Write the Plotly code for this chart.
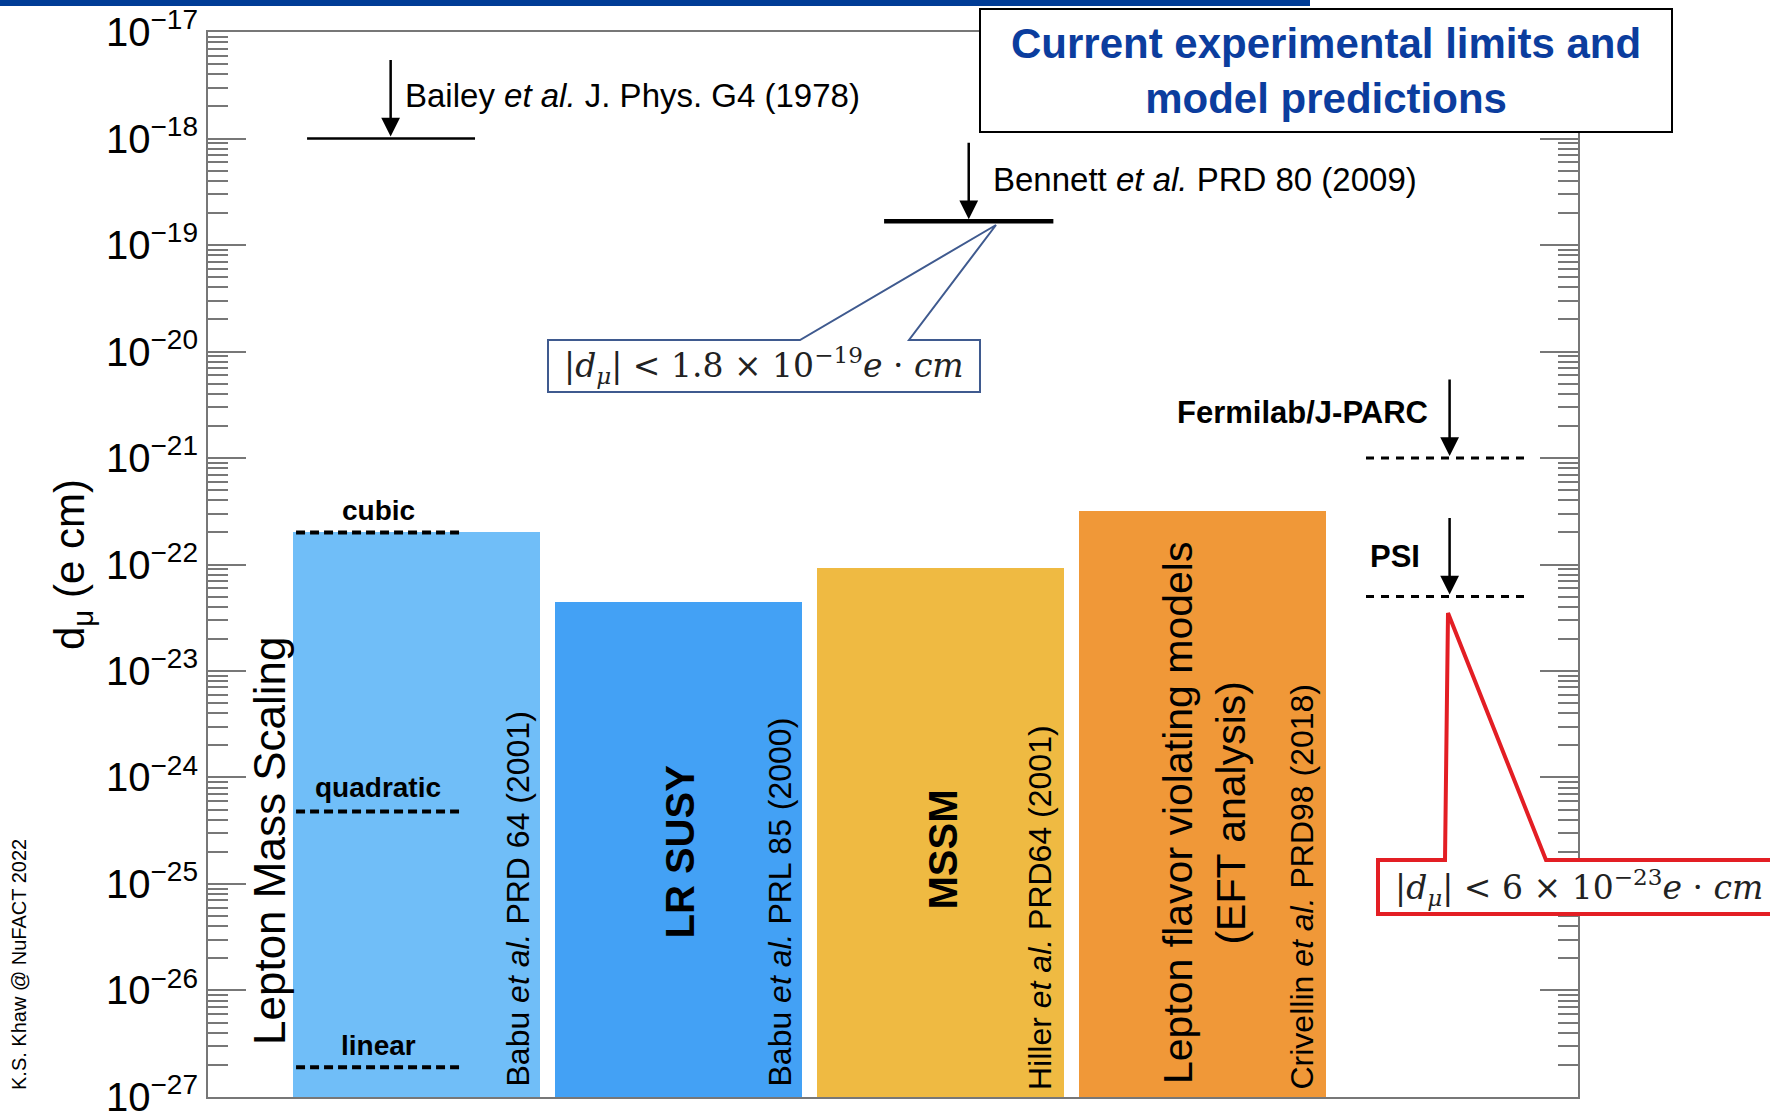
import math
import plotly.graph_objects as go

# ---------------- data ----------------
model_names = ["Lepton Mass Scaling", "LR SUSY", "MSSM",
               "Lepton flavor violating models<br>(EFT analysis)"]
model_refs = ["Babu <i>et al.</i> PRD 64 (2001)", "Babu <i>et al.</i> PRL 85 (2000)",
              "Hiller <i>et al.</i> PRD64 (2001)", "Crivellin <i>et al.</i> PRD98 (2018)"]
model_pos = [1, 2, 3, 4]
model_max = [2.0e-22, 4.4e-23, 9.3e-23, 3.2e-22]
model_colors = ["#70bef8", "#43a1f5", "#efba42", "#f09838"]

scaling_labels = ["cubic", "quadratic", "linear"]
scaling_values = [2.0e-22, 4.8e-25, 1.9e-27]

limit_labels = ["Bailey <i>et al.</i> J. Phys. G4 (1978)", "Bennett <i>et al.</i> PRD 80 (2009)",
                "<b>Fermilab/J-PARC</b>", "<b>PSI</b>"]
limit_values = [1.0e-18, 1.67e-19, 1.0e-21, 5.0e-23]

decades = list(range(-27, -16))
tick_vals = [10.0 ** d for d in decades]
tick_text = ["10<sup>\u2212%d</sup>" % (-d) for d in decades]
minor_vals = [k * 10.0 ** d for d in decades[:-1] for k in range(2, 10)]

# ---------------- layout geometry (pixels) ----------------
FW, FH = 1770, 1118
L, R, T, B = 208, 1578, 32, 1097
W, H = R - L, B - T


def PX(x):
    return (x - L) / W


def PY(y):
    return (B - y) / H


FONT = "Liberation Sans, Arial, Helvetica, sans-serif"
SERIF = "DejaVu Serif, serif"
AXC = "#777777"

fig = go.Figure()

# model bars
fig.add_trace(go.Bar(x=model_pos, y=model_max, marker=dict(color=model_colors, line=dict(width=0)),
                     width=0.943, hoverinfo="skip", showlegend=False))

# lepton mass scaling lines
for v in scaling_values:
    fig.add_trace(go.Scatter(x=[0.54, 1.165], y=[v, v], mode="lines",
                             line=dict(color="black", width=4, dash="9px,5px"),
                             hoverinfo="skip", showlegend=False))

# experimental limits
limit_x = [(0.582, 1.223), (2.784, 3.430), (4.623, 5.252), (4.623, 5.252)]
limit_style = [dict(width=2.5, dash="solid"), dict(width=4.5, dash="solid"),
               dict(width=3, dash="8px,7px"), dict(width=3, dash="8px,7px")]
arrow_x = [0.901, 3.107, 4.942, 4.942]
for (x0, x1), v, st in zip(limit_x, limit_values, limit_style):
    fig.add_trace(go.Scatter(x=[x0, x1], y=[v, v], mode="lines",
                             line=dict(color="black", **st),
                             hoverinfo="skip", showlegend=False))

annotations = []
for ax_x, v in zip(arrow_x, limit_values):
    annotations.append(dict(x=ax_x, y=math.log10(v), xref="x", yref="y", text="",
                            showarrow=True, arrowhead=2, arrowsize=1.5, arrowwidth=2.5,
                            arrowcolor="black", ax=0, ay=-80, standoff=2))

# limit labels
lab_pos = [(403, 95, "left"), (991, 180, "left"), (1430, 413, "right"), (1422, 556, "right")]
lab_size = [33, 33, 31, 31]
for (x, y, anc), txt, sz in zip(lab_pos, limit_labels, lab_size):
    annotations.append(dict(x=PX(x), y=PY(y), xref="paper", yref="paper", text=txt,
                            showarrow=False, xanchor=anc, yanchor="middle",
                            font=dict(family=FONT, size=sz, color="black")))

# scaling labels
for txt, y in zip(scaling_labels, [510, 788, 1045]):
    annotations.append(dict(x=PX(378), y=PY(y), xref="paper", yref="paper", text="<b>%s</b>" % txt,
                            showarrow=False, xanchor="center", yanchor="middle",
                            font=dict(family=FONT, size=28, color="black")))

# model names (vertical)
name_pos = [(269, 841), (679.5, 852), (942.5, 850), (1204, 813)]
name_fmt = ["%s", "<b>%s</b>", "<b>%s</b>", "%s"]
name_size = [44, 40, 40, 41]
for (x, y), nm, fm, sz in zip(name_pos, model_names, name_fmt, name_size):
    annotations.append(dict(x=PX(x), y=PY(y), xref="paper", yref="paper", text=fm % nm,
                            showarrow=False, xanchor="center", yanchor="middle", textangle=-90,
                            font=dict(family=FONT, size=sz, color="black")))

# references (vertical, bottom aligned)
ref_pos = [(517, 1089), (779, 1089), (1039.5, 1092), (1301.5, 1092)]
for (x, y), rf in zip(ref_pos, model_refs):
    annotations.append(dict(x=PX(x), y=PY(y), xref="paper", yref="paper", text=rf,
                            showarrow=False, xanchor="center", yanchor="bottom", textangle=-90,
                            font=dict(family=FONT, size=32, color="black")))

# y-axis title
annotations.append(dict(x=PX(72), y=PY(565), xref="paper", yref="paper",
                        text="d<sub>\u03bc</sub> (e cm)", showarrow=False, textangle=-90,
                        xanchor="center", yanchor="middle",
                        font=dict(family=FONT, size=42, color="black")))

# credit
annotations.append(dict(x=PX(19), y=PY(965), xref="paper", yref="paper",
                        text="K.S. Khaw @ NuFACT 2022", showarrow=False, textangle=-90,
                        xanchor="center", yanchor="middle",
                        font=dict(family=FONT, size=20, color="black")))

# title box text
annotations.append(dict(x=PX(1326), y=PY(71), xref="paper", yref="paper",
                        text="<b>Current experimental limits and<br>model predictions</b>",
                        showarrow=False, xanchor="center", yanchor="middle",
                        font=dict(family=FONT, size=42, color="#0b3d9e")))

# callout texts
annotations.append(dict(x=PX(764), y=PY(366), xref="paper", yref="paper",
                        text="|<i>d</i><sub><i>\u03bc</i></sub>| &lt; 1.8 \u00d7 10<sup>\u221219</sup><i>e</i> \u00b7 <i>cm</i>",
                        showarrow=False, xanchor="center", yanchor="middle",
                        font=dict(family=SERIF, size=33, color="#222222")))
annotations.append(dict(x=PX(1393), y=PY(887), xref="paper", yref="paper",
                        text="|<i>d</i><sub><i>\u03bc</i></sub>| &lt; 6 \u00d7 10<sup>\u221223</sup><i>e</i> \u00b7 <i>cm</i>",
                        showarrow=False, xanchor="left", yanchor="middle",
                        font=dict(family=SERIF, size=33, color="#222222")))


def path(points):
    return "M " + " L ".join("%.5f,%.5f" % (PX(x), PY(y)) for x, y in points) + " Z"


shapes = [
    # header band
    dict(type="rect", xref="paper", yref="paper", x0=PX(0), x1=PX(1310), y0=PY(0), y1=PY(6),
         fillcolor="#003c96", line=dict(width=0), layer="above"),
    # title box
    dict(type="rect", xref="paper", yref="paper", x0=PX(980), x1=PX(1672), y0=PY(9), y1=PY(132),
         fillcolor="white", line=dict(color="black", width=2), layer="above"),
    # Bennett callout
    dict(type="path", xref="paper", yref="paper",
         path=path([(548, 340), (800, 340), (996, 225), (909, 340), (980, 340), (980, 392), (548, 392)]),
         fillcolor="white", line=dict(color="#3f5a8f", width=2), layer="above"),
    # PSI callout
    dict(type="path", xref="paper", yref="paper",
         path=path([(1378, 860), (1445, 860), (1448, 613), (1546, 860), (1800, 860), (1800, 914), (1378, 914)]),
         fillcolor="white", line=dict(color="#e31e24", width=4), layer="above"),
]

fig.update_layout(
    width=FW, height=FH, autosize=False,
    margin=dict(l=L, r=FW - R, t=T, b=FH - B, pad=0, autoexpand=False),
    paper_bgcolor="white", plot_bgcolor="white",
    font=dict(family=FONT, color="black"),
    showlegend=False, bargap=0,
    annotations=annotations, shapes=shapes,
    xaxis=dict(range=[0.204, 5.432], showgrid=False, zeroline=False, showticklabels=False,
               ticks="", showline=True, linecolor=AXC, linewidth=2, mirror=True,
               fixedrange=True, automargin=False),
    yaxis=dict(type="log", range=[-27.0002, -16.9998], showgrid=False, zeroline=False,
               tickmode="array", tickvals=tick_vals, ticktext=tick_text,
               ticks="inside", ticklen=38, tickwidth=2, tickcolor=AXC,
               tickfont=dict(family=FONT, size=40, color="black"),
               ticklabeloverflow="allow",
               showline=True, linecolor=AXC, linewidth=2, mirror="ticks",
               minor=dict(tickmode="array", tickvals=minor_vals, ticks="inside",
                          ticklen=20, tickwidth=2, tickcolor=AXC, showgrid=False),
               fixedrange=True, automargin=False),
)

fig.write_html("out.html")
